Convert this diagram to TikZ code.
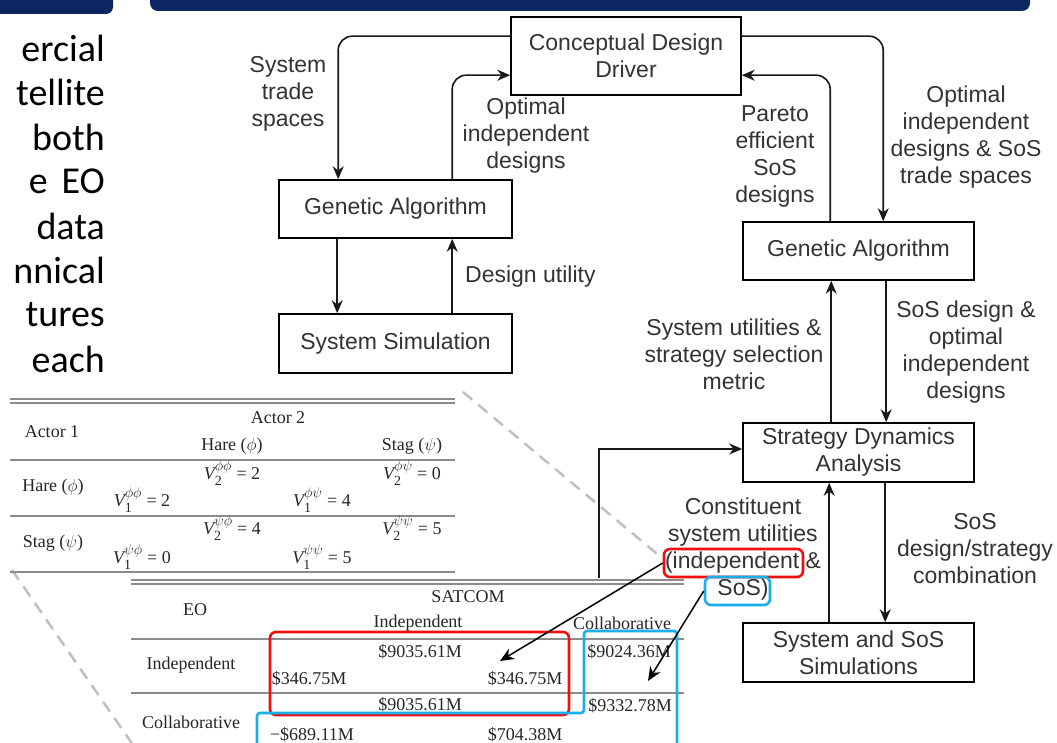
\documentclass[tikz,border=0pt]{standalone}
\usepackage{amsmath}
\usepackage{fontspec}
\setmainfont{Liberation Serif}
\newfontfamily\diagfont{Liberation Sans}
\newfontfamily\slidefont{Carlito}
\usetikzlibrary{arrows.meta}
\DeclareMathSizes{18}{18}{14}{10}
\definecolor{navy}{HTML}{0B2660}
\definecolor{txtgray}{HTML}{333333}
\definecolor{rulegray}{HTML}{8C8C8C}
\definecolor{dashgray}{HTML}{C0C0C0}
\definecolor{hlred}{HTML}{F01010}
\definecolor{hlblue}{HTML}{1AAEEA}
\newcommand{\payoff}[3]{$\text{\itshape V}_{\text{#1}}^{#2}\text{ = #3}$}
\tikzset{
  flowbox/.style={draw=black, line width=1.6pt, font=\diagfont\fontsize{23}{27}\selectfont, text=txtgray, align=center, inner sep=0pt, minimum width=231pt, minimum height=59pt},
  lbl/.style={font=\diagfont\fontsize{23}{27}\selectfont, text=txtgray, align=center, inner sep=0pt},
  arr/.style={draw=black!90, line width=1.6pt, -{Stealth[length=13pt,width=11pt]}},
  plainarr/.style={draw=black, line width=1.5pt, -{Stealth[length=14pt,width=12pt]}},
  para/.style={font=\slidefont\fontsize{38}{44}\selectfont, anchor=east, inner sep=0pt},
  tab/.style={font=\fontsize{18}{20}\selectfont, text=black!85, inner sep=0pt},
  trule/.style={draw=rulegray, line width=1.2pt},
  dashline/.style={draw=dashgray, line width=2.5pt, dash pattern=on 12pt off 8pt},
  hlbox/.style={line width=2.6pt, rounded corners=6pt, inner sep=0pt}
}
\begin{document}
\begin{tikzpicture}[x=1pt,y=-1pt]
\useasboundingbox (0,0) rectangle (1057,743);
\fill[white] (0,0) rectangle (1057,743);
% top bars
\fill[navy, rounded corners=7pt] (-20,-20) rectangle (113,14);
\fill[navy, rounded corners=8pt] (150,-20) rectangle (1030,11);
% left paragraph
\node[para] (p1) at (105,48) {ercial};
\node[para] (p2) at (105,92.5) {tellite};
\node[para] (p3) at (105,137) {both};
\node[para] (p4) at (105,181.5) {e\hspace{14pt}EO};
\node[para] (p5) at (105,226) {data};
\node[para] (p6) at (105,270.5) {nnical};
\node[para] (p7) at (105,315) {tures};
\node[para] (p8) at (105,359.5) {each};
% dashed guide lines
\draw[dashline] (463,392) -- (662,558);
\draw[dashline] (12,570) -- (140,755);
% ---------- table 1 ----------
\draw[trule] (10,399) -- (455,399);
\draw[trule] (10,403) -- (455,403);
\draw[trule] (10,460) -- (455,460);
\draw[trule] (10,516) -- (455,516);
\draw[trule] (10,572) -- (455,572);
\node[tab] (a1) at (52,432) {Actor 1};
\node[tab] (a2) at (278,418) {Actor 2};
\node[tab] (h1) at (232,446) {Hare ($\phi$)};
\node[tab] (s1) at (412,446) {Stag ($\psi$)};
\node[tab] (h2) at (53,487) {Hare ($\phi$)};
\node[tab] (s2) at (53,543) {Stag ($\psi$)};
\node[tab] (v1) at (232,473) {\payoff{2}{\phi\phi}{2}};
\node[tab] (v2) at (412,473) {\payoff{2}{\phi\psi}{0}};
\node[tab] (v3) at (142,500) {\payoff{1}{\phi\phi}{2}};
\node[tab] (v4) at (322,500) {\payoff{1}{\phi\psi}{4}};
\node[tab] (v5) at (232,528) {\payoff{2}{\psi\phi}{4}};
\node[tab] (v6) at (412,528) {\payoff{2}{\psi\psi}{5}};
\node[tab] (v7) at (142,557) {\payoff{1}{\psi\phi}{0}};
\node[tab] (v8) at (322,557) {\payoff{1}{\psi\psi}{5}};
% ---------- table 2 ----------
\draw[trule] (131,580) -- (684,580);
\draw[trule] (131,584) -- (684,584);
\draw[trule] (131,639) -- (684,639);
\draw[trule] (131,693) -- (684,693);
\node[tab] (eo) at (195,610) {EO};
\node[tab] (sat) at (468,597) {SATCOM};
\node[tab] (ci) at (418,623) {Independent};
\node[tab] (cc) at (622,623) {Collaborative};
\node[tab] (ri) at (191,665) {Independent};
\node[tab] (rc) at (191,722) {Collaborative};
\node[tab] (m1) at (420,652) {\$9035.61M};
\node[tab] (m2) at (629,652) {\$9024.36M};
\node[tab] (m3) at (309,679) {\$346.75M};
\node[tab] (m4) at (525,679) {\$346.75M};
\node[tab] (m5) at (420,705) {\$9035.61M};
\node[tab] (m6) at (630,706) {\$9332.78M};
\node[tab] (m7) at (312,735) {−\$689.11M};
\node[tab] (m8) at (525,735) {\$704.38M};
% highlights in table
\node[hlbox, draw=hlred, minimum width=299pt, minimum height=83pt] (redtab) at (419.5,673.5) {};
\draw[hlblue, line width=2.6pt, rounded corners=3pt] (257,760) -- (257,713) -- (584,713) -- (584,631) -- (677,631) -- (677,760);
% ---------- flow diagram ----------
\node[flowbox, minimum width=230pt, minimum height=78pt] (cdd) at (626,56) {Conceptual Design\\Driver};
\node[flowbox, minimum width=233pt, minimum height=58pt] (ga1) at (395.5,209) {Genetic Algorithm};
\node[flowbox, minimum width=233pt, minimum height=59pt] (sim) at (395.5,343.5) {System Simulation};
\node[flowbox, minimum height=58pt] (ga2) at (858.5,251) {Genetic Algorithm};
\node[flowbox] (sda) at (858.5,452.5) {Strategy Dynamics\\Analysis};
\node[flowbox] (sss) at (858.5,652.5) {System and SoS\\Simulations};
% connectors
\draw[arr, rounded corners=14pt] ([yshift=-20pt]cdd.north west) -| ([xshift=60pt]ga1.north west);
\draw[arr, rounded corners=14pt] ([xshift=174pt]ga1.north west) |- ([yshift=-59pt]cdd.north west);
\draw[arr] ([xshift=59pt]ga1.south west) -- ([xshift=59pt]sim.north west);
\draw[arr] ([xshift=174pt]sim.north west) -- ([xshift=174pt]ga1.south west);
\draw[arr, rounded corners=14pt] ([yshift=-20pt]cdd.north east) -| ([xshift=141pt]ga2.north west);
\draw[arr, rounded corners=14pt] ([xshift=88pt]ga2.north west) |- ([yshift=-59pt]cdd.north east);
\draw[arr] ([xshift=89pt]sda.north west) -- ([xshift=89pt]ga2.south west);
\draw[arr] ([xshift=144pt]ga2.south west) -- ([xshift=144pt]sda.north west);
\draw[arr] ([xshift=87pt]sss.north west) -- ([xshift=87pt]sda.south west);
\draw[arr] ([xshift=143pt]sda.south west) -- ([xshift=143pt]sss.north west);
\coordinate (tabtop) at (599,578);
\draw[arr] (tabtop) |- ([yshift=3.5pt]sda.west);
% labels
\node[lbl] (l1) at (288,94) {System\\trade\\spaces};
\node[lbl] (l2) at (526,136) {Optimal\\independent\\designs};
\node[lbl, anchor=west] (l3) at (465,277) {Design utility};
\node[lbl] (l4) at (775,156) {Pareto\\efficient\\SoS\\designs};
\node[lbl] (l5) at (966,137) {Optimal\\independent\\designs \& SoS\\trade spaces};
\node[lbl] (l6) at (734,354) {System utilities \&\\strategy selection\\metric};
\node[lbl] (l7) at (966,352) {SoS design \&\\optimal\\independent\\designs};
\node[lbl] (l8) at (743,549) {Constituent\\system utilities\\(independent \&\\SoS)};
\node[lbl] (l9) at (975,549) {SoS\\design/strategy\\combination};
% highlight boxes around label words
\node[hlbox, draw=hlred, minimum width=139pt, minimum height=28pt] (redhl) at (733.5,563) {};
\node[hlbox, draw=hlblue, minimum width=65pt, minimum height=28pt] (bluehl) at (737.5,591) {};
\coordinate (redtip) at (500,661);
\coordinate (bluetip) at (648,681);
\draw[plainarr] (redhl.west) -- (redtip);
\draw[plainarr] (bluehl.west) -- (bluetip);
\end{tikzpicture}
\end{document}
